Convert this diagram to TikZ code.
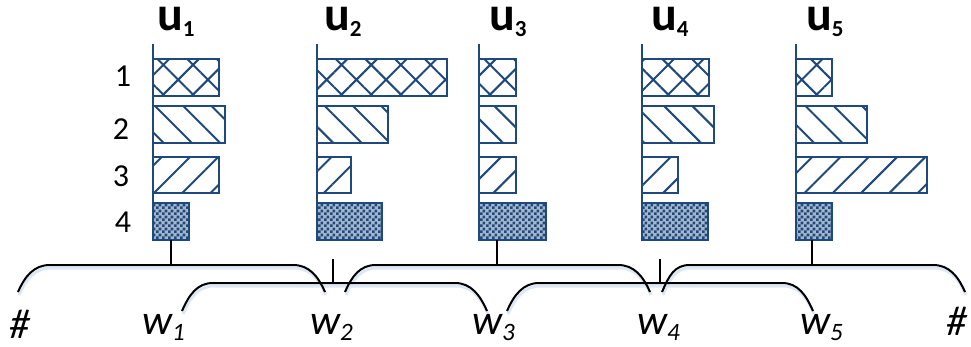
\documentclass[tikz,border=0pt]{standalone}
\usepackage{fontspec}
\setmainfont{Carlito}
\usetikzlibrary{patterns.meta}
\definecolor{barblue}{RGB}{31,73,125}
\definecolor{shadowblue}{RGB}{222,232,245}
\tikzdeclarepattern{
  name=mychecker, type=uncolored,
  bounding box={(0pt,0pt) and (6pt,6pt)},
  tile size={(6pt,6pt)},
  code={\fill (0pt,0pt) rectangle (3pt,3pt); \fill (3pt,3pt) rectangle (6pt,6pt);}
}
\newcommand\usub[1]{\raisebox{-6pt}{\fontsize{23}{23}\selectfont\bfseries #1}}
\newcommand\wsub[1]{\raisebox{-6pt}{\fontsize{25}{25}\selectfont\itshape #1}}
\tikzset{
  barbox/.style={draw=barblue, line width=2pt, pattern color=barblue},
  pxhatch/.style={barbox, pattern={Hatch[angle=45,distance=21pt,line width=2pt]}},
  pnw/.style={barbox, pattern={Lines[angle=-45,distance=20pt,line width=2pt]}},
  pne/.style={barbox, pattern={Lines[angle=45,distance=20pt,line width=2pt]}},
  pcheck/.style={barbox, preaction={fill=barblue!40}, pattern=mychecker},
  axisline/.style={draw=barblue, line width=2pt},
  brace/.style={draw=black, line width=2pt},
  braceshadow/.style={draw=shadowblue, line width=3pt},
  ulab/.style={anchor=base west, inner sep=0pt, text height=22pt, text depth=6pt, font=\fontsize{48}{48}\selectfont\bfseries},
  numlab/.style={anchor=base, inner sep=0pt, font=\fontsize{32}{32}\selectfont},
  wlab/.style={anchor=base west, inner sep=0pt, text depth=6pt, font=\fontsize{42}{42}\selectfont\itshape},
}
\begin{document}
\begin{tikzpicture}[x=1pt,y=-1pt]
\useasboundingbox (0,0) rectangle (971,347);
% bars
\foreach \ax/\a/\b/\c/\d in {153/219/225/219/189, 317/447/388/351/382, 479/516/516/516/546, 642/709/714/678/708, 796/832/867/927/832}{
  \draw[pxhatch] (\ax,59) rectangle (\a,96);
  \draw[pnw] (\ax,106) rectangle (\b,143);
  \draw[pne] (\ax,157) rectangle (\c,193);
  \draw[pcheck] (\ax,203) rectangle (\d,240);
  \draw[axisline] (\ax,44) -- (\ax,240);
}
% labels u
\node[ulab] (u1) at (157,31) {u\usub{1}};
\node[ulab] (u2) at (324,31) {u\usub{2}};
\node[ulab] (u3) at (489,31) {u\usub{3}};
\node[ulab] (u4) at (651,31) {u\usub{4}};
\node[ulab] (u5) at (806,31) {u\usub{5}};
% row numbers
\node[numlab] (n1) at (123,87) {1};
\node[numlab] (n2) at (121,140) {2};
\node[numlab] (n3) at (121,187) {3};
\node[numlab] (n4) at (123,233) {4};
% brace shadows
\begin{scope}[yshift=-3pt, xshift=1pt]
\draw[braceshadow] (18,292) .. controls +(7,-16) and +(-16,0) .. (50,265) -- (293,265) .. controls +(16,0) and +(-7,-16) .. (325,292);
\draw[braceshadow] (182,311) .. controls +(7,-16) and +(-16,0) .. (213,283) -- (455,283) .. controls +(16,0) and +(-7,-16) .. (487,311);
\draw[braceshadow] (345,292) .. controls +(7,-16) and +(-16,0) .. (376,265) -- (618,265) .. controls +(16,0) and +(-7,-16) .. (650,292);
\draw[braceshadow] (507,311) .. controls +(7,-16) and +(-16,0) .. (539,283) -- (782,283) .. controls +(16,0) and +(-7,-16) .. (813,311);
\draw[braceshadow] (662,292) .. controls +(7,-16) and +(-16,0) .. (690,265) -- (933,265) .. controls +(16,0) and +(-7,-16) .. (965,292);
\end{scope}
% braces
\draw[brace] (18,292) .. controls +(7,-16) and +(-16,0) .. (50,265) -- (293,265) .. controls +(16,0) and +(-7,-16) .. (325,292);
\draw[brace] (182,311) .. controls +(7,-16) and +(-16,0) .. (213,283) -- (455,283) .. controls +(16,0) and +(-7,-16) .. (487,311);
\draw[brace] (345,292) .. controls +(7,-16) and +(-16,0) .. (376,265) -- (618,265) .. controls +(16,0) and +(-7,-16) .. (650,292);
\draw[brace] (507,311) .. controls +(7,-16) and +(-16,0) .. (539,283) -- (782,283) .. controls +(16,0) and +(-7,-16) .. (813,311);
\draw[brace] (662,292) .. controls +(7,-16) and +(-16,0) .. (690,265) -- (933,265) .. controls +(16,0) and +(-7,-16) .. (965,292);
% stems
\draw[brace] (171,240) -- (171,265);
\draw[brace] (333,259) -- (333,283);
\draw[brace] (497,240) -- (497,265);
\draw[brace] (660,259) -- (660,283);
\draw[brace] (812,240) -- (812,265);
% w labels
\node[wlab] (h1) at (9,338) {\#};
\node[wlab] (w1) at (142,334) {w\wsub{1}};
\node[wlab] (w2) at (310,334) {w\wsub{2}};
\node[wlab] (w3) at (472,334) {w\wsub{3}};
\node[wlab] (w4) at (637,334) {w\wsub{4}};
\node[wlab] (w5) at (800,334) {w\wsub{5}};
\node[wlab] (h2) at (946,335) {\#};
\end{tikzpicture}
\end{document}
